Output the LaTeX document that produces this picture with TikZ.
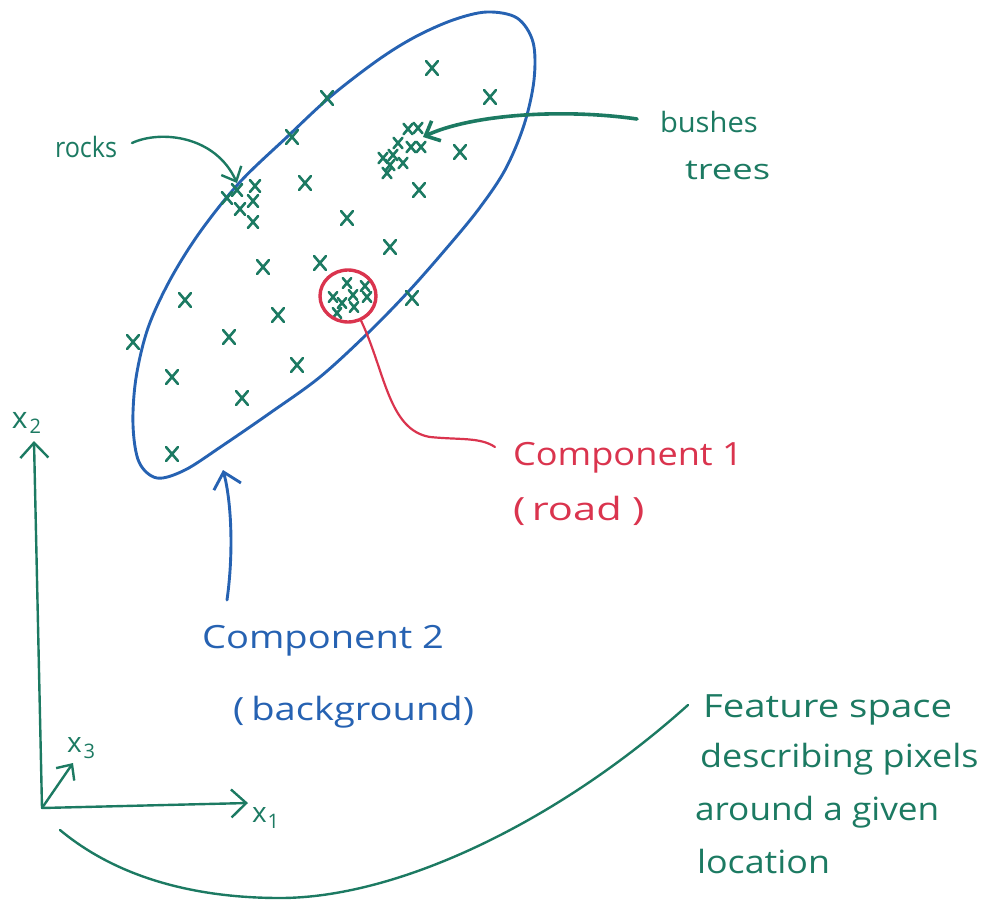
\documentclass[tikz,border=0pt]{standalone}
\usepackage{fontspec}
\setmainfont{Open Sans}
\usepackage{graphicx}
\usetikzlibrary{arrows.meta,shapes.geometric}

\definecolor{penblue}{RGB}{38,98,178}
\definecolor{pengreen}{RGB}{28,122,98}
\definecolor{penred}{RGB}{218,52,78}

\newcommand\handtext[3]{\fontsize{#1}{#1}\selectfont\scalebox{#2}[1]{#3}}

\tikzset{
  every node/.style={inner sep=0pt, outer sep=0pt},
  lbl/.style={anchor=base west},
  greenink/.style={pengreen, line width=2.4pt, line cap=round, line join=round},
  blueink/.style={penblue, line width=2.9pt, line cap=round, line join=round},
  redink/.style={penred, line width=2.2pt, line cap=round, line join=round},
  barb/.style={-{Straight Barb[length=15pt,width=28pt]}},
  smallbarb/.style={-{Straight Barb[length=12pt,width=22pt]}},
  cross/.pic={\draw[greenink, line width=2.6pt] (-6,-7) -- (6,7) (-6,7) -- (6,-7);}
}

\begin{document}
\begin{tikzpicture}[x=1pt,y=-1pt]
\useasboundingbox (0,0) rectangle (981,901);

% outline of component 2 (background)
\draw[blueink] plot[smooth cycle, tension=0.55] coordinates {
  (453,20) (487,12) (517,18) (533,42) (534,80) (524,125) (505,170)
  (478,210) (445,250) (408,292) (368,333) (320,377) (270,413) (222,446)
  (185,470) (157,478) (139,462) (133,425) (136,378) (148,328) (170,280)
  (200,232) (240,182) (287,137) (330,97) (378,60) (415,37)};

% scattered samples
\foreach \p in {(432,68),(490,97),(327,98),(292,137),(460,152),(305,183),
  (419,190),(347,218),(390,247),(263,267),(320,263),(185,300),(278,315),
  (412,298),(133,342),(229,337),(172,377),(297,365),(242,398),(172,454)}
  \pic at \p {cross};

% rocks cluster
\foreach \p in {(237,190),(255,186),(227,198),(253,201),(240,209),(253,222)}
  \pic[scale=0.85] at \p {cross};

% bushes / trees cluster
\foreach \p in {(408,129),(418,128),(398,143),(411,147),(421,147),(383,158),
  (393,155),(403,163),(387,173),(390,165)}
  \pic[scale=0.75] at \p {cross};

% road cluster
\foreach \p in {(347,283),(365,286),(333,297),(353,295),(367,297),(342,303),
  (354,307),(337,313)}
  \pic[scale=0.7] at \p {cross};

% component 1 (road)
\node[draw=penred, line width=3.4pt, ellipse, minimum width=56pt,
  minimum height=52pt] (road) at (348,296) {};

% labels
\node[lbl, text=pengreen] (rocks) at (55,158) {\handtext{28}{0.9}{rocks}};
\node[lbl, text=pengreen] (bushes) at (660,133) {\handtext{28}{1.04}{bushes}};
\node[lbl, text=pengreen] (trees) at (685,180) {\handtext{28}{1.3}{trees}};
\node[lbl, text=penred] (comp1) at (513,465) {\handtext{32}{1.13}{Component 1}};
\node[lbl, text=penred] (comp1b) at (513,520) {\handtext{32}{1.3}{(\hspace{5pt}road\hspace{8pt})}};
\node[lbl, text=penblue] (comp2) at (202,648) {\handtext{32}{1.19}{Component 2}};
\node[lbl, text=penblue] (comp2b) at (233,720) {\handtext{32}{1.19}{(\hspace{6pt}background)}};
\node[lbl, text=pengreen] (feat1) at (703,717) {\handtext{32}{1.2}{Feature space}};
\node[lbl, text=pengreen] (feat2) at (700,767) {\handtext{32}{1.125}{describing pixels}};
\node[lbl, text=pengreen] (feat3) at (695,820) {\handtext{32}{1.1}{around a given}};
\node[lbl, text=pengreen] (feat4) at (697,873) {\handtext{32}{1.12}{location}};

% axes
\coordinate (origin) at (42,808);
\coordinate (x1tip) at (248,803);
\coordinate (x2tip) at (34,441);
\coordinate (x3tip) at (73,763);
\draw[greenink, barb] (origin) -- (x2tip);
\draw[greenink, barb] (origin) -- (x1tip);
\draw[greenink, smallbarb] (origin) -- (x3tip);
\node[lbl, text=pengreen] (x2lbl) at (12,428)
  {\fontsize{30}{30}\selectfont x\hspace{2pt}\raisebox{-5pt}{\fontsize{20}{20}\selectfont 2}};
\node[lbl, text=pengreen] (x3lbl) at (67,752)
  {\fontsize{28}{28}\selectfont x\hspace{2pt}\raisebox{-6pt}{\fontsize{20}{20}\selectfont 3}};
\node[lbl, text=pengreen] (x1lbl) at (252,822)
  {\fontsize{28}{28}\selectfont x\hspace{1pt}\raisebox{-6pt}{\fontsize{20}{20}\selectfont 1}};

% connectors
\coordinate (rocksend) at (132,143);
\coordinate (rockstip) at (237,183);
\draw[greenink, smallbarb] (rocksend) .. controls (160,130) and (215,135) .. (rockstip);

\coordinate (bushesend) at (637,119);
\coordinate (bushestip) at (423,137);
\draw[greenink, line width=3.6pt, smallbarb] (bushesend) .. controls (560,108) and (470,115) .. (bushestip);

\coordinate (comp2end) at (227,600);
\coordinate (comp2tip) at (223,470);
\draw[blueink, barb] (comp2end) .. controls (234,550) and (231,500) .. (comp2tip);

\coordinate (comp1end) at (495,447);
\draw[redink] (road.-62) .. controls (385,370) and (388,430) .. (430,437)
  .. controls (460,440) and (480,437) .. (comp1end);

\coordinate (featend) at (688,705);
\coordinate (axisend) at (60,830);
\draw[greenink] (featend) .. controls (560,820) and (400,898) .. (280,898)
  .. controls (200,898) and (120,880) .. (axisend);
\end{tikzpicture}
\end{document}
